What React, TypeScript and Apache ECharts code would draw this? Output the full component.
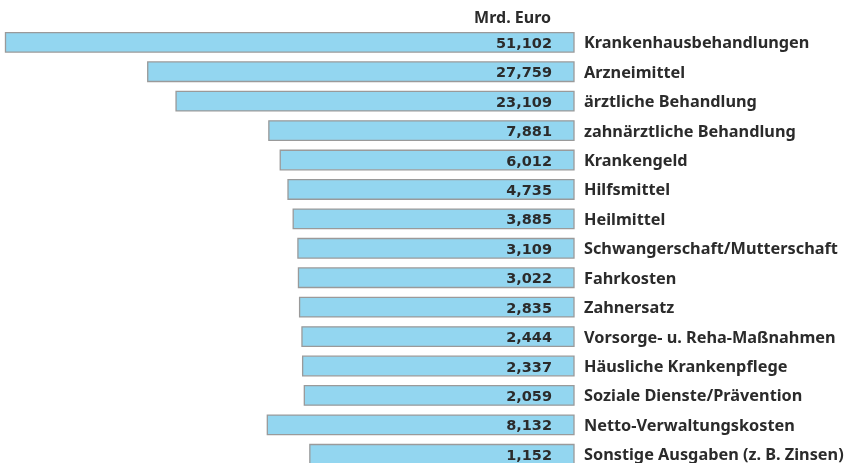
import React, { useEffect, useRef } from "react";
import * as echarts from "echarts";

const categories = [
  "Krankenhausbehandlungen",
  "Arzneimittel",
  "ärztliche Behandlung",
  "zahnärztliche Behandlung",
  "Krankengeld",
  "Hilfsmittel",
  "Heilmittel",
  "Schwangerschaft/Mutterschaft",
  "Fahrkosten",
  "Zahnersatz",
  "Vorsorge- u. Reha-Maßnahmen",
  "Häusliche Krankenpflege",
  "Soziale Dienste/Prävention",
  "Netto-Verwaltungskosten",
  "Sonstige Ausgaben (z. B. Zinsen)",
];
const values = [
  51.102, 27.759, 23.109, 7.881, 6.012, 4.735, 3.885, 3.109, 3.022, 2.835,
  2.444, 2.337, 2.059, 8.132, 1.152,
];
const unitLabel = "Mrd. Euro";
const BASE = 42.2; // fixed part of each bar (axis units)

const FONT = "'Noto Sans', sans-serif";
const NUMFONT = "'DejaVu Sans', sans-serif";

function fmt(v: number) {
  return v.toFixed(3).replace(".", ",");
}

export default function App() {
  const ref = useRef<HTMLDivElement>(null);
  useEffect(() => {
    const chart = echarts.init(ref.current!, null, { renderer: "svg" });
    chart.setOption({
      animation: false,
      grid: {
        left: 5.5,
        right: 281,
        top: 27.6,
        height: 441.4,
        outerBoundsMode: "none",
        containLabel: false,
      },
      xAxis: {
        type: "value",
        inverse: true,
        min: -BASE,
        max: 51.1,
        show: false,
      },
      yAxis: {
        type: "category",
        data: categories,
        inverse: true,
        position: "right",
        axisLine: { show: false },
        axisTick: { show: false },
        axisLabel: {
          margin: 10,
          align: "left",
          color: "#2b2b2b",
          fontFamily: FONT,
          fontWeight: "bold",
          fontSize: 16.3,
        },
      },
      graphic: [
        {
          type: "text",
          right: 855 - 551,
          top: 9,
          style: {
            text: unitLabel,
            fill: "#2b2b2b",
            font: `bold 16px ${FONT}`,
          },
        },
      ],
      series: [
        {
          type: "custom",
          clip: false,
          data: values.map((v, i) => [v, i]),
          encode: { x: 0, y: 1 },
          renderItem: (params: any, api: any) => {
            const v = api.value(0);
            const idx = api.value(1);
            const right = api.coord([-BASE, idx]);
            const left = api.coord([v, idx]);
            const h = api.size([0, 1])[1] * 0.665;
            return {
              type: "group",
              children: [
                {
                  type: "rect",
                  shape: {
                    x: left[0],
                    y: left[1] - h / 2,
                    width: right[0] - left[0],
                    height: h,
                  },
                  style: { fill: "#93d6f0", stroke: "#9a9a9a", lineWidth: 1.3 },
                },
                {
                  type: "text",
                  x: right[0] - 22,
                  y: right[1] + 0.5,
                  style: {
                    text: fmt(v),
                    textAlign: "right",
                    textVerticalAlign: "middle",
                    fill: "#2b2b2b",
                    font: `bold 14.5px ${NUMFONT}`,
                  },
                },
              ],
            };
          },
        },
      ],
    });
    return () => chart.dispose();
  }, []);
  return (
    <div
      ref={ref}
      style={{ position: "fixed", left: 0, top: 0, width: 855, height: 463 }}
    />
  );
}
